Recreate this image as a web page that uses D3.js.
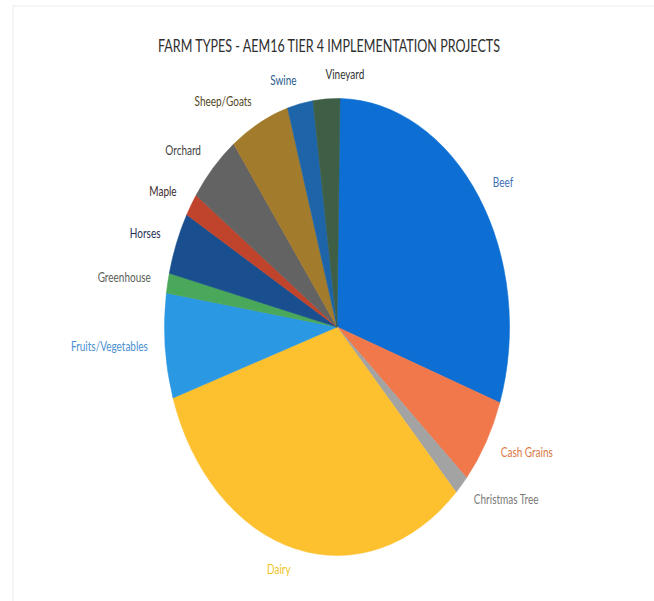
<!DOCTYPE html>
<html>
<head>
<meta charset="utf-8">
<script src="https://cdn.jsdelivr.net/npm/d3@7"></script>
<style>
  html, body { margin: 0; padding: 0; background: #fff; }
  svg { display: block; }
</style>
</head>
<body>
<svg id="chart"></svg>
<script>
// farm types, share of projects (%)
const categories = ['Beef', 'Cash Grains', 'Christmas Tree', 'Dairy', 'Fruits/Vegetables',
  'Greenhouse', 'Horses', 'Maple', 'Orchard', 'Sheep/Goats', 'Swine', 'Vineyard'];
const shares = [30.1, 6.1, 1.4, 32.1, 7.4, 1.4, 4.4, 1.6, 5.0, 5.6, 2.4, 2.5];
const sliceColors = ['#0d6fd4', '#f0784a', '#a3a3a3', '#fdc12f', '#2b98e3', '#4aa85a',
  '#1a4f8f', '#c0432b', '#636363', '#a37b2c', '#1d65a8', '#3e5e45'];
const labelColors = ['#3d6fb6', '#d9783f', '#7a7a7a', '#f2c31c', '#4a90d2', '#5a6258',
  '#1f3153', '#3a2c2c', '#3f3f3f', '#54481e', '#2a5d8e', '#2f3330'];
const title = 'FARM TYPES - AEM16 TIER 4 IMPLEMENTATION PROJECTS';

var width = 654, height = 601;
var stretch = 228.5 / 172.5;   // the picture is squashed sideways
var radius = 172.5;
var cx = 337, cy = 327 / stretch;

var svg = d3.select('#chart').attr('width', width).attr('height', height);

// faint frame of the scanned page
svg.append('rect')
  .attr('x', 13).attr('y', 6)
  .attr('width', 700).attr('height', 700)
  .attr('fill', 'none')
  .attr('stroke', '#ececec');

var g = svg.append('g').attr('transform', 'scale(1,' + stretch + ')');

g.append('text')
  .attr('x', 329).attr('y', 47 / stretch)
  .attr('text-anchor', 'middle')
  .attr('dominant-baseline', 'middle')
  .attr('font-family', 'Lato, "Open Sans", sans-serif')
  .attr('font-size', 13.5)
  .attr('fill', '#2e2e2e')
  .attr('textLength', 342)
  .attr('lengthAdjust', 'spacingAndGlyphs')
  .text(title);

var start = 1 * Math.PI / 180;
var pie = d3.pie().sort(null).value(function (d) { return d; })
  .startAngle(start).endAngle(start + 2 * Math.PI);
var arcs = pie(shares);

var arc = d3.arc().innerRadius(0).outerRadius(radius);

var slices = g.append('g').attr('transform', 'translate(' + cx + ',' + cy + ')');

slices.selectAll('path')
  .data(arcs)
  .enter().append('path')
  .attr('d', arc)
  .attr('fill', function (d, i) { return sliceColors[i]; })
  .attr('stroke', function (d, i) { return sliceColors[i]; })
  .attr('stroke-width', 0.5);

slices.selectAll('text')
  .data(arcs)
  .enter().append('text')
  .attr('x', function (d) {
    var mid = (d.startAngle + d.endAngle) / 2;
    return radius * 1.1 * Math.sin(mid);
  })
  .attr('y', function (d) {
    var mid = (d.startAngle + d.endAngle) / 2;
    return -radius * 1.1 * Math.cos(mid);
  })
  .attr('text-anchor', function (d) {
    var mid = (d.startAngle + d.endAngle) / 2;
    return Math.sin(mid) < -0.1 ? 'end' : 'start';
  })
  .attr('dominant-baseline', 'middle')
  .attr('font-family', 'Lato, "Open Sans", sans-serif')
  .attr('font-size', 10)
  .attr('fill', function (d, i) { return labelColors[i]; })
  .text(function (d, i) { return categories[i]; });
</script>
</body>
</html>
